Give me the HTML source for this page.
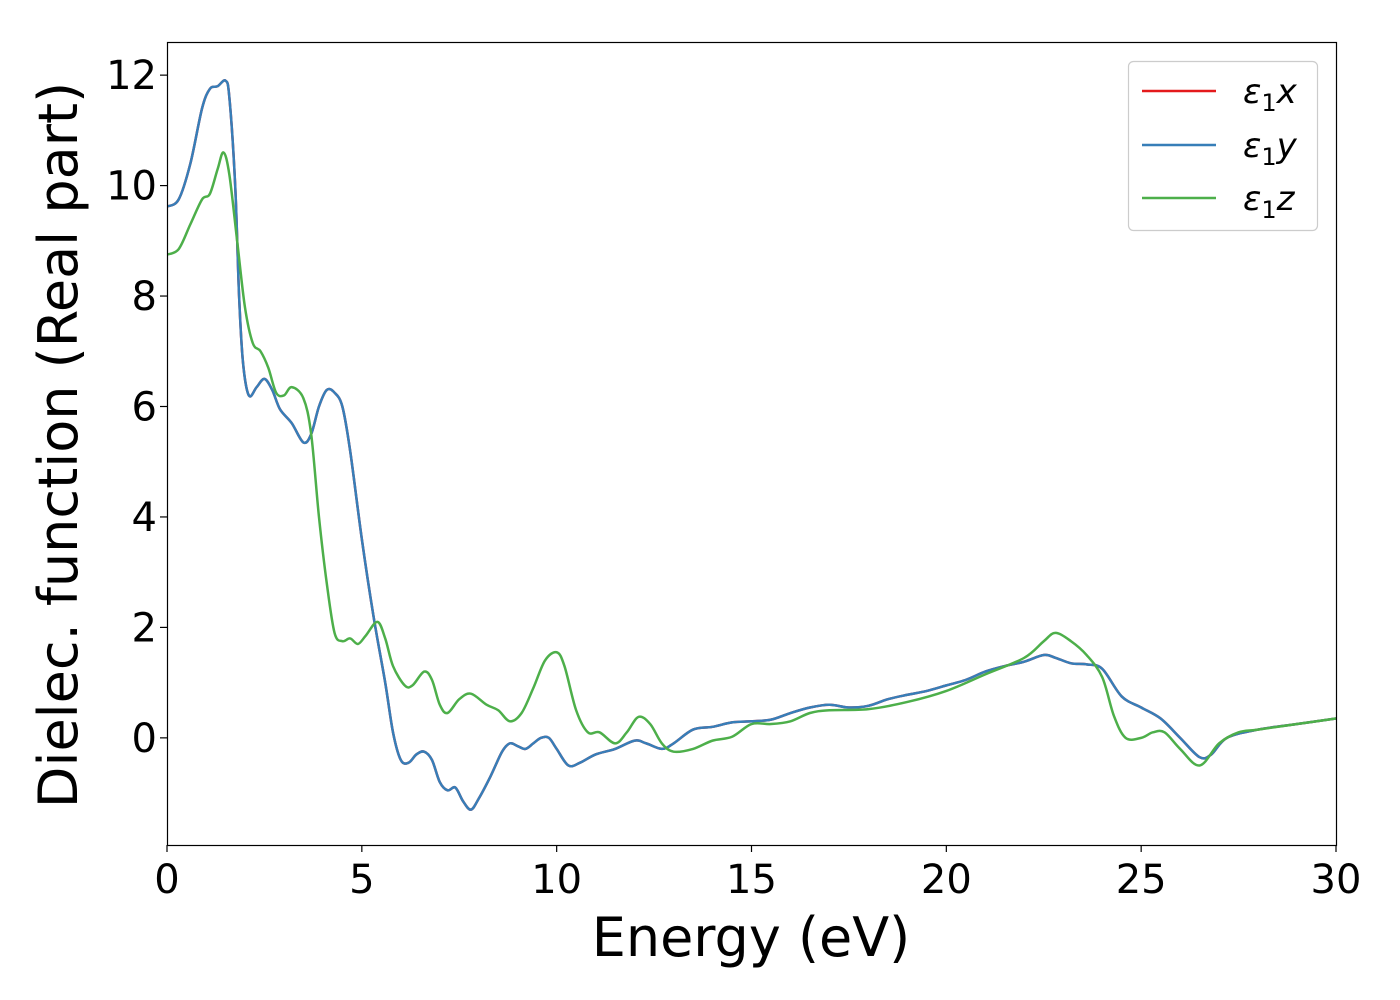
<!DOCTYPE html>
<html><head><meta charset="utf-8"><style>
body{margin:0;background:#fff;}
svg{display:block;font-family:"DejaVu Sans","Liberation Sans",sans-serif;}
</style></head><body>
<svg id="chart" width="1400" height="1000" viewBox="0 0 1400 1000" xmlns="http://www.w3.org/2000/svg">
<rect x="0" y="0" width="1400" height="1000" fill="#fff"/>
<g id="plot"></g>
<rect x="167.5" y="42.5" width="1169" height="803" fill="none" stroke="#000" stroke-width="1.2"/>
<g id="xticks"></g>
<g id="yticks"></g>
<text x="751" y="956" font-size="54" text-anchor="middle">Energy (eV)</text>
<text transform="translate(77,445) rotate(-90)" font-size="54" text-anchor="middle">Dielec. function (Real part)</text>
<g>
<rect x="1128.5" y="61.5" width="189" height="169" rx="5" fill="#fff" stroke="#ccc" stroke-width="1.2"/>
<g><line x1="1142" y1="91" x2="1216" y2="91" stroke="#e41a1c" stroke-width="2.5"/><text x="1243" y="103" font-size="34" font-style="italic">ε<tspan font-size="24" font-style="normal" dy="8">1</tspan><tspan dy="-8">x</tspan></text></g>
<g><line x1="1142" y1="145" x2="1216" y2="145" stroke="#377eb8" stroke-width="2.5"/><text x="1243" y="157" font-size="34" font-style="italic">ε<tspan font-size="24" font-style="normal" dy="8">1</tspan><tspan dy="-8">y</tspan></text></g>
<g><line x1="1142" y1="198" x2="1216" y2="198" stroke="#4daf4a" stroke-width="2.5"/><text x="1243" y="210" font-size="34" font-style="italic">ε<tspan font-size="24" font-style="normal" dy="8">1</tspan><tspan dy="-8">z</tspan></text></g>
</g>
</svg>
<script>
const xTickValues=[0,5,10,15,20,25,30];
const yTickValues=[0,2,4,6,8,10,12];
const energyXY=[0,0.3,0.6,0.9,1.1,1.3,1.5,1.6,1.75,1.85,1.95,2.1,2.3,2.5,2.7,2.9,3.2,3.5,3.7,3.9,4.1,4.3,4.5,4.7,5.0,5.3,5.6,5.8,6.0,6.2,6.4,6.6,6.8,7.0,7.2,7.4,7.6,7.8,8.0,8.3,8.6,8.8,9.0,9.2,9.4,9.6,9.8,10.0,10.3,10.6,11.0,11.5,12.0,12.3,12.7,13.0,13.5,14.0,14.5,15.0,15.5,16.0,16.5,17.0,17.5,18.0,18.5,19.0,19.5,20.0,20.5,21.0,21.5,22.0,22.5,22.8,23.2,23.6,24.0,24.5,25.0,25.5,26.0,26.5,26.8,27.2,28.0,29.0,30.0];
const eps1x=[9.62,9.75,10.4,11.4,11.75,11.8,11.9,11.6,10,8,6.8,6.2,6.35,6.5,6.3,5.95,5.7,5.35,5.5,6.0,6.3,6.25,6.0,5.2,3.6,2.2,1.0,0.1,-0.4,-0.45,-0.3,-0.25,-0.4,-0.8,-0.95,-0.9,-1.15,-1.3,-1.1,-0.7,-0.25,-0.1,-0.15,-0.2,-0.1,0.0,0.0,-0.2,-0.5,-0.45,-0.3,-0.2,-0.05,-0.1,-0.2,-0.1,0.15,0.2,0.28,0.3,0.33,0.45,0.55,0.6,0.55,0.58,0.7,0.78,0.85,0.95,1.05,1.2,1.3,1.38,1.5,1.45,1.35,1.33,1.25,0.75,0.55,0.35,0.0,-0.35,-0.3,0.0,0.15,0.25,0.35];
const eps1y=eps1x.slice();
const energyZ=[0,0.3,0.6,0.9,1.1,1.3,1.45,1.6,1.8,2.0,2.2,2.4,2.6,2.8,3.0,3.2,3.5,3.7,3.9,4.1,4.3,4.5,4.7,4.9,5.1,5.4,5.6,5.8,6.1,6.3,6.6,6.8,7.0,7.2,7.5,7.8,8.2,8.5,8.8,9.1,9.4,9.7,10.0,10.2,10.5,10.8,11.1,11.5,11.8,12.1,12.4,12.7,13.0,13.5,14.0,14.5,15.0,15.5,16.0,16.5,17.0,18.0,19.0,20.0,21.0,22.0,22.5,22.8,23.2,23.6,24.0,24.3,24.6,25.0,25.3,25.6,26.0,26.5,27.0,27.5,28.0,29.0,30.0];
const eps1z=[8.75,8.85,9.3,9.75,9.85,10.3,10.6,10.2,9,7.8,7.15,7.0,6.7,6.25,6.2,6.35,6.15,5.5,4.0,2.8,1.9,1.75,1.8,1.7,1.85,2.1,1.8,1.3,0.95,0.95,1.2,1.05,0.6,0.45,0.7,0.8,0.6,0.5,0.3,0.45,0.9,1.4,1.55,1.3,0.5,0.1,0.1,-0.1,0.1,0.38,0.25,-0.1,-0.25,-0.2,-0.05,0.02,0.25,0.25,0.3,0.45,0.5,0.52,0.65,0.85,1.15,1.45,1.75,1.9,1.75,1.5,1.1,0.4,0.0,0.0,0.1,0.1,-0.2,-0.5,-0.1,0.1,0.15,0.25,0.35];
const NS="http://www.w3.org/2000/svg";
const x0=167,x1=1336,yTop=42,yBot=845;
const xMin=0,xMax=30,yMin=-1.94,yMax=12.6;
const xs=v=>x0+(v-xMin)/(xMax-xMin)*(x1-x0);
const ys=v=>yBot-(v-yMin)/(yMax-yMin)*(yBot-yTop);
function pathFor(X,Y){
  const p=X.map((v,i)=>[xs(v),ys(Y[i])]);
  let d="M"+p[0][0].toFixed(2)+","+p[0][1].toFixed(2);
  for(let i=0;i<p.length-1;i++){
    const a=p[Math.max(0,i-1)],b=p[i],c=p[i+1],e=p[Math.min(p.length-1,i+2)];
    const c1x=b[0]+(c[0]-a[0])/6,c1y=b[1]+(c[1]-a[1])/6;
    const c2x=c[0]-(e[0]-b[0])/6,c2y=c[1]-(e[1]-b[1])/6;
    d+=" C"+c1x.toFixed(2)+","+c1y.toFixed(2)+" "+c2x.toFixed(2)+","+c2y.toFixed(2)+" "+c[0].toFixed(2)+","+c[1].toFixed(2);
  }
  return d;
}
const plot=document.getElementById('plot');
const clip=document.createElementNS(NS,'clipPath');clip.setAttribute('id','cp');
const cr=document.createElementNS(NS,'rect');cr.setAttribute('x',x0);cr.setAttribute('y',yTop);cr.setAttribute('width',x1-x0);cr.setAttribute('height',yBot-yTop);
clip.appendChild(cr);plot.appendChild(clip);
function addLine(X,Y,color,name){
  const el=document.createElementNS(NS,'path');
  el.setAttribute('d',pathFor(X,Y));el.setAttribute('fill','none');el.setAttribute('stroke',color);
  el.setAttribute('stroke-width','2.5');el.setAttribute('clip-path','url(#cp)');
  
  
  plot.appendChild(el);
}
addLine(energyXY,eps1x,'#e41a1c','series-eps1x');
addLine(energyXY,eps1y,'#377eb8','series-eps1y');
addLine(energyZ,eps1z,'#4daf4a','series-eps1z');
const xg=document.getElementById('xticks');
xTickValues.forEach(v=>{
  const l=document.createElementNS(NS,'line');
  l.setAttribute('x1',xs(v));l.setAttribute('x2',xs(v));l.setAttribute('y1',yBot);l.setAttribute('y2',yBot+7);l.setAttribute('stroke','#000');l.setAttribute('stroke-width','1.2');
  
  
  xg.appendChild(l);
  const t=document.createElementNS(NS,'text');
  t.setAttribute('x',xs(v));t.setAttribute('y',893);t.setAttribute('font-size','40');t.setAttribute('text-anchor','middle');t.textContent=v;
  
  
  xg.appendChild(t);
});
const yg=document.getElementById('yticks');
yTickValues.forEach(v=>{
  const l=document.createElementNS(NS,'line');
  l.setAttribute('x1',x0-7);l.setAttribute('x2',x0);l.setAttribute('y1',ys(v));l.setAttribute('y2',ys(v));l.setAttribute('stroke','#000');l.setAttribute('stroke-width','1.2');
  
  
  yg.appendChild(l);
  const t=document.createElementNS(NS,'text');
  t.setAttribute('x',x0-10);t.setAttribute('y',ys(v)+14);t.setAttribute('font-size','40');t.setAttribute('text-anchor','end');t.textContent=v;
  
  
  yg.appendChild(t);
});
</script>
</body></html>
